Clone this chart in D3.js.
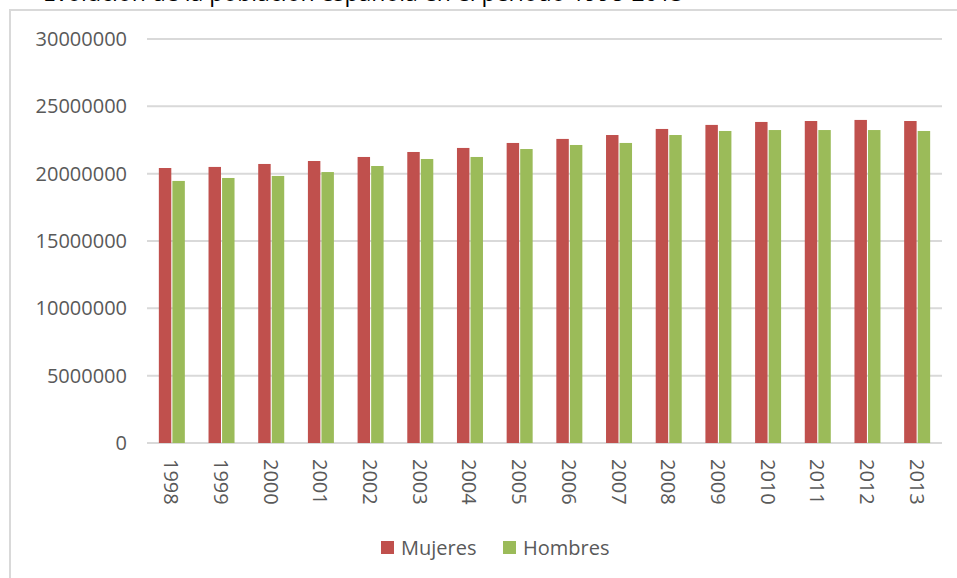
<!DOCTYPE html>

<html>

	<head>
		<script src="https://d3js.org/d3.v7.min.js" charset="utf-8"></script>
		<style type="text/css">
			body {
				margin: 0;
				background-color: white;
				font-family: "Open Sans", sans-serif;
			}
		</style>
	</head>

	<body>

		<script>
		// poblacion por sexo
		var years = ["1998", "1999", "2000", "2001", "2002", "2003", "2004", "2005",
			"2006", "2007", "2008", "2009", "2010", "2011", "2012", "2013"];
		var mujeres = [20420000, 20500000, 20720000, 20940000, 21240000, 21610000, 21910000, 22280000,
			22580000, 22870000, 23320000, 23620000, 23840000, 23910000, 23990000, 23910000];
		var hombres = [19460000, 19680000, 19830000, 20120000, 20570000, 21090000, 21240000, 21830000,
			22130000, 22280000, 22870000, 23170000, 23240000, 23240000, 23240000, 23170000];
		var seriesNames = ["Mujeres", "Hombres"];
		var seriesColors = ["#c0504d", "#9bbb59"];
		var yTicks = [0, 5000000, 10000000, 15000000, 20000000, 25000000, 30000000];
		var title = "Evolución de la población española en el periodo 1998-2013";

		var w = 957;
		var h = 578;

		var canvas = d3.select("body")
					.append("svg")
					.attr("width", w)
					.attr("height", h);

		// titulo cortado por arriba (como en la imagen original)
		canvas.append("text")
			.attr("x", 43)
			.attr("y", 0.5)
			.attr("fill", "#000")
			.style("font-size", "23px")
			.text(title);

		// marco
		canvas.append("path")
			.attr("d", "M10,578 V10 H957")
			.attr("fill", "none")
			.attr("stroke", "#d9d9d9")
			.attr("stroke-width", 2);

		var x = d3.scaleBand()
				.domain(years)
				.range([147, 942]);

		var bw = x.bandwidth();
		var x1 = d3.scaleBand()
				.domain(seriesNames)
				.range([bw / 2 - 13, bw / 2 + 13])
				.paddingInner(0.08);

		var y = d3.scaleLinear()
				.domain([0, 30000000])
				.range([443, 39]);

		// lineas de cuadricula
		canvas.selectAll("line.grid")
			.data(yTicks)
			.enter()
				.append("line")
				.attr("class", "grid")
				.attr("x1", 147)
				.attr("x2", 942)
				.attr("y1", function(d) {return y(d)})
				.attr("y2", function(d) {return y(d)})
				.attr("stroke", "#d9d9d9")
				.attr("stroke-width", 2);

		var yAxis = canvas.append("g")
				.attr("transform", "translate(147,0)")
				.call(d3.axisLeft(y).tickValues(yTicks).tickFormat(d3.format("d")).tickSize(0).tickPadding(20));
		yAxis.select(".domain").remove();
		yAxis.selectAll("text")
			.attr("fill", "#595959")
			.style("font-size", "20px")
			.style("font-family", "Open Sans, sans-serif");

		var xAxis = canvas.append("g")
				.attr("transform", "translate(0,443)")
				.call(d3.axisBottom(x).tickSize(0));
		xAxis.select(".domain").remove();
		xAxis.selectAll("text")
			.attr("fill", "#595959")
			.style("font-size", "20px")
			.style("font-family", "Open Sans, sans-serif")
			.attr("text-anchor", "start")
			.attr("dy", null)
			.attr("y", 0)
			.attr("transform", "translate(0,16) rotate(90)")
			.attr("dominant-baseline", "central");

		var seriesData = [mujeres, hombres];
		seriesData.forEach(function(values, s) {
			canvas.selectAll("rect.s" + s)
				.data(values)
				.enter()
					.append("rect")
					.attr("class", "s" + s)
					.attr("x", function(d, i) {return x(years[i]) + x1(seriesNames[s])})
					.attr("width", x1.bandwidth())
					.attr("y", function(d) {return y(d)})
					.attr("height", function(d) {return y(0) - y(d)})
					.attr("fill", seriesColors[s]);
		});

		// leyenda
		var legend = canvas.selectAll("g.legend")
					.data(seriesNames)
					.enter()
						.append("g")
						.attr("class", "legend")
						.attr("transform", function(d, i) {return "translate(" + (381 + i * 122) + ",541)"});

		legend.append("rect")
			.attr("width", 13)
			.attr("height", 13)
			.attr("fill", function(d, i) {return seriesColors[i]});

		legend.append("text")
			.attr("x", 20)
			.attr("y", 6.5)
			.attr("dominant-baseline", "central")
			.attr("fill", "#595959")
			.style("font-size", "20px")
			.text(function(d) {return d});
		</script>

	</body>

</html>
